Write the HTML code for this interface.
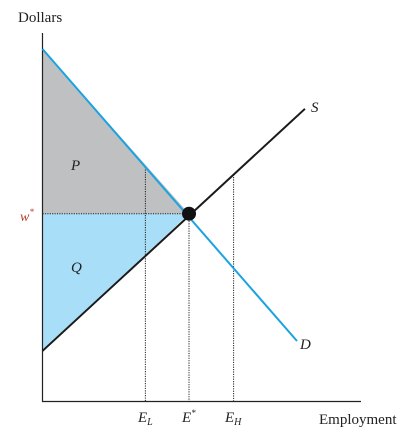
<!DOCTYPE html>
<html><head><meta charset="utf-8"><style>
body{margin:0;background:#fff}
svg{display:block}
text{font-family:"Liberation Serif",serif;fill:#222}
</style></head><body>
<svg width="415" height="437" viewBox="0 0 415 437" xmlns="http://www.w3.org/2000/svg">
<g id="g"></g>
</svg>
<script>
const demandPts=[[0,9.565],[7.99,1.63]];
const supplyPts=[[0,1.36],[8.24,7.94]];
const eq=[4.6,5.09];
const markX=[3.23,4.6,6.0];
const markLabels=["E_L","E*","E_H"];
const X=v=>42.5+v*31.85, Y=v=>401-v*36.8;
const g=document.getElementById('g');const NS='http://www.w3.org/2000/svg';
function el(t,a,name){const e=document.createElementNS(NS,t);for(const k in a)e.setAttribute(k,a[k]);


g.appendChild(e);return e;}
function lineY(pts,x){const[[x0,y0],[x1,y1]]=pts;return y0+(y1-y0)*(x-x0)/(x1-x0);}
// areas
el('polygon',{points:`${X(0)},${Y(demandPts[0][1])} ${X(eq[0])},${Y(eq[1])} ${X(0)},${Y(eq[1])}`,fill:'#bfc0c2'},'area-p');
el('polygon',{points:`${X(0)},${Y(eq[1])} ${X(eq[0])},${Y(eq[1])} ${X(0)},${Y(supplyPts[0][1])}`,fill:'#a8def8'},'area-q');
// dotted lines
el('line',{x1:X(0),y1:Y(eq[1]),x2:X(eq[0]),y2:Y(eq[1]),stroke:'#222','stroke-width':1,'stroke-dasharray':'1.2,1.2'},'wage-guide-line');
const tops=[lineY(demandPts,markX[0]),eq[1],lineY(supplyPts,markX[2])];
markX.forEach((m,i)=>{el('line',{x1:X(m),y1:Y(tops[i]),x2:X(m),y2:Y(0),stroke:'#222','stroke-width':1,'stroke-dasharray':'1.2,1.2'},'employment-guide-'+i);});
// axes
el('line',{x1:42.5,y1:33,x2:42.5,y2:401.5,stroke:'#222','stroke-width':1.2},'y-axis');
el('line',{x1:42,y1:401.5,x2:361,y2:401.5,stroke:'#222','stroke-width':1.2},'x-axis');
// curves
el('line',{x1:X(supplyPts[0][0]),y1:Y(supplyPts[0][1]),x2:X(supplyPts[1][0]),y2:Y(supplyPts[1][1]),stroke:'#1a1a1a','stroke-width':2},'supply-line');
el('line',{x1:X(demandPts[0][0]),y1:Y(demandPts[0][1]),x2:X(demandPts[1][0]),y2:Y(demandPts[1][1]),stroke:'#1aa3e0','stroke-width':2},'demand-line');
el('circle',{cx:X(eq[0]),cy:Y(eq[1]),r:7,fill:'#111'},'equilibrium-point');
</script>
<svg style="position:absolute;left:0;top:0" width="415" height="437">
<text x="18" y="22" font-size="15">Dollars</text>
<text x="20" y="221" font-size="14" font-style="italic" fill="#b33" style="fill:#b04030">w<tspan font-size="9" dy="-6">*</tspan></text>
<text x="71" y="170" font-size="15" font-style="italic">P</text>
<text x="71" y="272" font-size="15" font-style="italic">Q</text>
<text x="311" y="112" font-size="15" font-style="italic">S</text>
<text x="300" y="349" font-size="15" font-style="italic">D</text>
<text x="138" y="422" font-size="15" font-style="italic">E<tspan font-size="10" dy="3">L</tspan></text>
<text x="182" y="422" font-size="15" font-style="italic">E<tspan font-size="9" dy="-6">*</tspan></text>
<text x="225" y="422" font-size="15" font-style="italic">E<tspan font-size="10" dy="3">H</tspan></text>
<text x="319" y="424" font-size="15">Employment</text>
</svg>
</body></html>
